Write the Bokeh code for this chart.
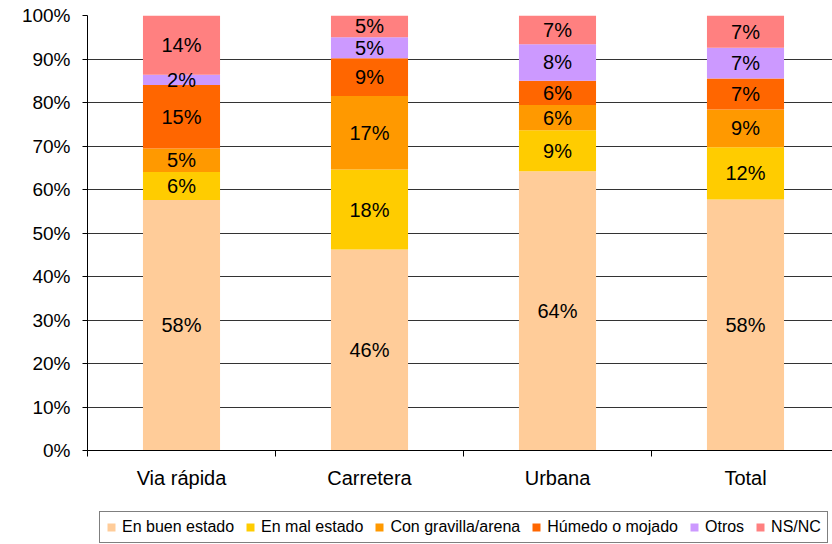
import numpy as np
from bokeh.plotting import figure
from bokeh.layouts import column
from bokeh.models import (ColumnDataSource, FixedTicker, NumeralTickFormatter,
                          Legend, LegendItem)
from bokeh.embed import file_html
from bokeh.resources import INLINE
from bokeh.core.properties import value

# ---- data (percent) ----
categories = ["Via rápida", "Carretera", "Urbana", "Total"]
series = ["En buen estado", "En mal estado", "Con gravilla/arena",
          "Húmedo o mojado", "Otros", "NS/NC"]
buen_estado = [57.6, 46.2, 64.2, 57.7]
mal_estado = [6.4, 18.4, 9.4, 12.0]
gravilla = [5.4, 16.9, 5.8, 8.7]
humedo = [14.6, 8.7, 5.6, 7.1]
otros = [2.4, 4.8, 8.4, 7.1]
ns_nc = [13.6, 5.0, 6.6, 7.4]
colors = ["#FFCC99", "#FFCC00", "#FF9900", "#FF6600", "#CC99FF", "#FF8080"]
y_ticks = [0, 10, 20, 30, 40, 50, 60, 70, 80, 90, 100]

FONT = "Liberation Sans"

values = [buen_estado, mal_estado, gravilla, humedo, otros, ns_nc]
keys = ["s%d" % i for i in range(len(series))]
xs = [i + 0.5 for i in range(len(categories))]
data = {"x": xs}
for k, v in zip(keys, values):
    data[k] = [a / 100.0 for a in v]
source = ColumnDataSource(data)

p = figure(width=832, height=500,
           x_range=(0, 745 / 188.0), y_range=(0, 1),
           output_backend="svg", toolbar_location=None,
           min_border_left=87, min_border_right=0, min_border_top=15,
           min_border_bottom=50)
p.outline_line_color = None
p.background_fill_color = "white"
p.border_fill_color = "white"

renderers = p.vbar_stack(keys, x="x", width=0.41, source=source,
                         color=colors, line_color=None)

# segment labels
arr = np.array(values, dtype=float) / 100.0
cum = np.cumsum(arr, axis=0)
lab_x, lab_y, lab_t = [], [], []
for s in range(arr.shape[0]):
    for c in range(arr.shape[1]):
        lab_x.append(xs[c])
        lab_y.append(cum[s, c] - arr[s, c] / 2)
        lab_t.append("%d%%" % int(round(values[s][c])))
p.text(x=lab_x, y=lab_y, text=lab_t, text_align="center",
       text_baseline="middle", text_font=value(FONT),
       text_font_size="20px", text_color="black")

# axes
p.yaxis.ticker = FixedTicker(ticks=[t / 100.0 for t in y_ticks])
p.yaxis.formatter = NumeralTickFormatter(format="0%")
p.yaxis.major_label_text_font = FONT
p.yaxis.major_label_text_font_size = "19px"
p.yaxis.major_label_text_color = "black"
p.yaxis.major_tick_out = 5
p.yaxis.major_tick_in = 0
p.yaxis.minor_tick_out = 0
p.yaxis.minor_tick_in = 0
p.yaxis.major_label_standoff = 12
p.yaxis.axis_line_color = "black"
p.yaxis.major_tick_line_color = "black"

p.xaxis.ticker = FixedTicker(ticks=xs, minor_ticks=[0, 1, 2, 3])
p.xaxis.major_label_overrides = {x: c for x, c in zip(xs, categories)}
p.xaxis.major_label_text_font = FONT
p.xaxis.major_label_text_font_size = "20px"
p.xaxis.major_label_text_color = "black"
p.xaxis.major_tick_out = 0
p.xaxis.major_tick_in = 0
p.xaxis.minor_tick_out = 6
p.xaxis.minor_tick_in = 0
p.xaxis.minor_tick_line_color = "black"
p.xaxis.major_label_standoff = 10
p.xaxis.axis_line_color = "black"

p.xgrid.grid_line_color = None
p.ygrid.grid_line_color = "#333333"
p.ygrid.grid_line_width = 1

# ---- legend in a strip figure below (its bars are hidden) ----
lf = figure(width=832, height=44, x_range=(100, 101), y_range=(0, 1),
            output_backend="svg", toolbar_location=None,
            x_axis_type=None, y_axis_type=None,
            min_border_left=0, min_border_right=0, min_border_top=0,
            min_border_bottom=0)
lf.outline_line_color = None
lf.background_fill_color = "white"
lf.border_fill_color = "white"
leg_renderers = lf.vbar_stack(keys, x="x", width=0.41, source=source,
                              color=colors, line_color=None)
for r in leg_renderers:
    r.visible = False

legend = Legend(items=[LegendItem(label=s, renderers=[r])
                       for s, r in zip(series, leg_renderers)],
                orientation="horizontal", location=(12, 1))
legend.label_text_font = FONT
legend.label_text_font_size = "16px"
legend.label_text_color = "black"
legend.glyph_width = 10
legend.glyph_height = 10
legend.label_standoff = 6
legend.spacing = 11
legend.padding = 6
legend.margin = 0
legend.border_line_color = "black"
legend.border_line_width = 1
legend.background_fill_color = "white"
legend.background_fill_alpha = 1
lf.add_layout(legend, "center")

open("out.html", "w").write(file_html(column(p, lf, spacing=0), INLINE))
